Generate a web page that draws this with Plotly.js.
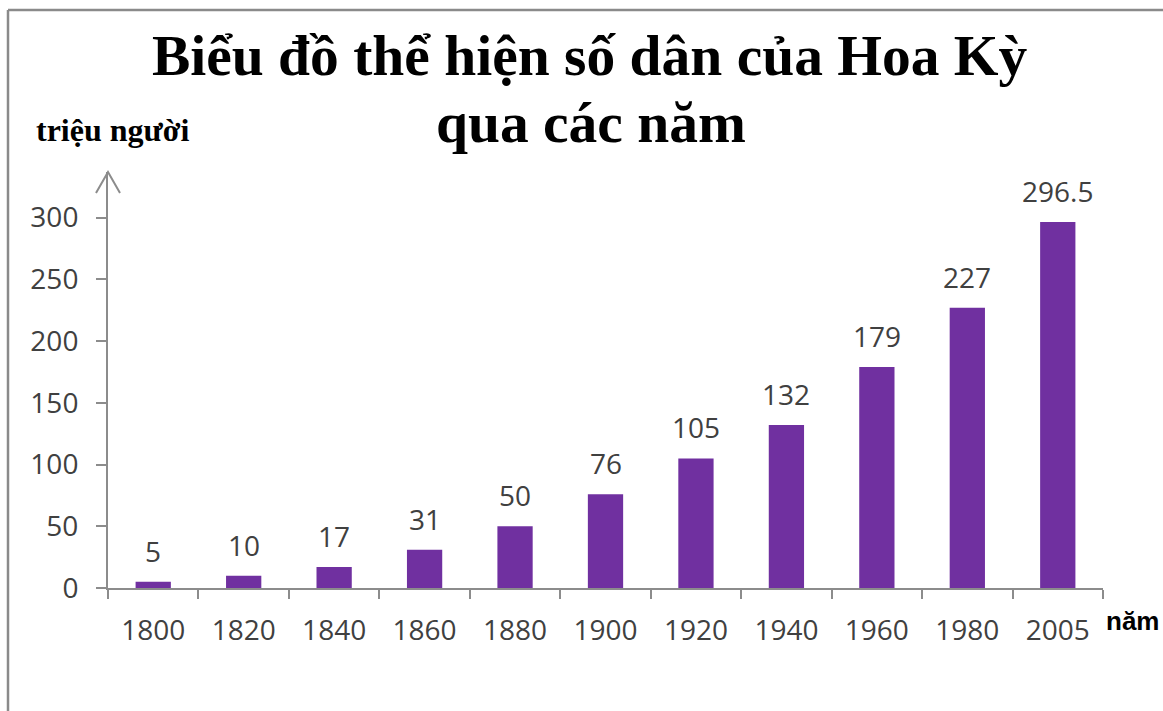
<!DOCTYPE html>
<html>
<head>
<meta charset="utf-8">
<script src="https://cdn.plot.ly/plotly-3.0.1.min.js"></script>
<style>html,body{margin:0;padding:0;background:#fff;}#chart{width:1163px;height:711px;}</style>
</head>
<body>
<div id="chart"></div>
<script>
const years = ['1800','1820','1840','1860','1880','1900','1920','1940','1960','1980','2005'];
const population = [5, 10, 17, 31, 50, 76, 105, 132, 179, 227, 296.5];
const yTicks = [0, 50, 100, 150, 200, 250, 300];
const titleLine1 = 'Biểu đồ thể hiện số dân của Hoa Kỳ';
const titleLine2 = 'qua các năm';
const yUnit = 'triệu người';
const xUnit = 'năm';

const W = 1163, H = 711;
const M = {l: 108, r: 60, t: 172, b: 123};
const PW = W - M.l - M.r, PH = H - M.t - M.b;
const px = x => (x - M.l) / PW;
const py = y => (H - M.b - y) / PH;

const axisColor = '#8c8c8c';
const labelFont = {family: 'Open Sans, sans-serif', size: 28, color: '#404040'};
const titleFont = {family: 'Liberation Serif, serif', size: 57.5, color: '#000'};

const trace = {
  type: 'bar',
  x: years,
  y: population,
  marker: {color: '#7030A0'},
  hoverinfo: 'skip'
};

const annotations = years.map((yr, i) => ({
  x: i, y: population[i], xref: 'x', yref: 'y',
  text: String(population[i]), showarrow: false,
  yanchor: 'bottom', yshift: 10, font: labelFont
}));
annotations.push({
  xref: 'paper', yref: 'paper', x: px(591), y: py(122), xanchor: 'center', yanchor: 'middle',
  text: '<b>' + titleLine2 + '</b>', showarrow: false, font: titleFont
});
annotations.push({
  xref: 'paper', yref: 'paper', x: px(34), y: py(130), xanchor: 'left', yanchor: 'middle',
  text: '<b>' + yUnit + '</b>', showarrow: false,
  font: {family: 'Liberation Serif, serif', size: 32, color: '#000'}
});
annotations.push({
  xref: 'paper', yref: 'paper', x: px(1104), y: py(621), xanchor: 'left', yanchor: 'middle',
  text: '<b>' + xUnit + '</b>', showarrow: false,
  font: {family: 'Liberation Sans, Arial, sans-serif', size: 26, color: '#000'}
});

const shapes = [
  {type: 'line', xref: 'paper', yref: 'paper', x0: px(8), x1: px(1163), y0: py(10), y1: py(10), line: {color: '#8a8a8a', width: 2.5}},
  {type: 'line', xref: 'paper', yref: 'paper', x0: px(8), x1: px(8), y0: py(10), y1: py(711), line: {color: '#8a8a8a', width: 2.5}},
  {type: 'path', xref: 'paper', yref: 'paper', xsizemode: 'pixel', ysizemode: 'pixel', xanchor: 0, yanchor: 1,
   path: 'M-12,-21L0,0L12,-21', line: {color: axisColor, width: 2}}
];

const layout = {
  width: W, height: H,
  margin: M,
  paper_bgcolor: '#fff', plot_bgcolor: '#fff',
  showlegend: false,
  bargap: 0.61,
  title: {text: '<b>' + titleLine1 + '</b>', x: 0.507, xanchor: 'center', y: 1 - 55 / H, yanchor: 'middle',
          font: titleFont},
  xaxis: {
    type: 'category', tickson: 'boundaries', ticks: 'outside', ticklen: 9, tickwidth: 2, tickcolor: axisColor,
    showline: true, linecolor: axisColor, linewidth: 2, showgrid: false, zeroline: false,
    tickfont: labelFont, ticklabelstandoff: 16, tickangle: 0, range: [-0.5, years.length - 0.5], fixedrange: true
  },
  yaxis: {
    range: [0, 337], tickvals: yTicks, ticks: 'outside', ticklen: 10, tickwidth: 2, tickcolor: axisColor,
    showline: true, linecolor: axisColor, linewidth: 2, showgrid: false, zeroline: false,
    tickfont: labelFont, ticklabelstandoff: 12, fixedrange: true
  },
  annotations: annotations,
  shapes: shapes
};

Plotly.newPlot('chart', [trace], layout, {displayModeBar: false, staticPlot: true});
</script>
</body>
</html>
